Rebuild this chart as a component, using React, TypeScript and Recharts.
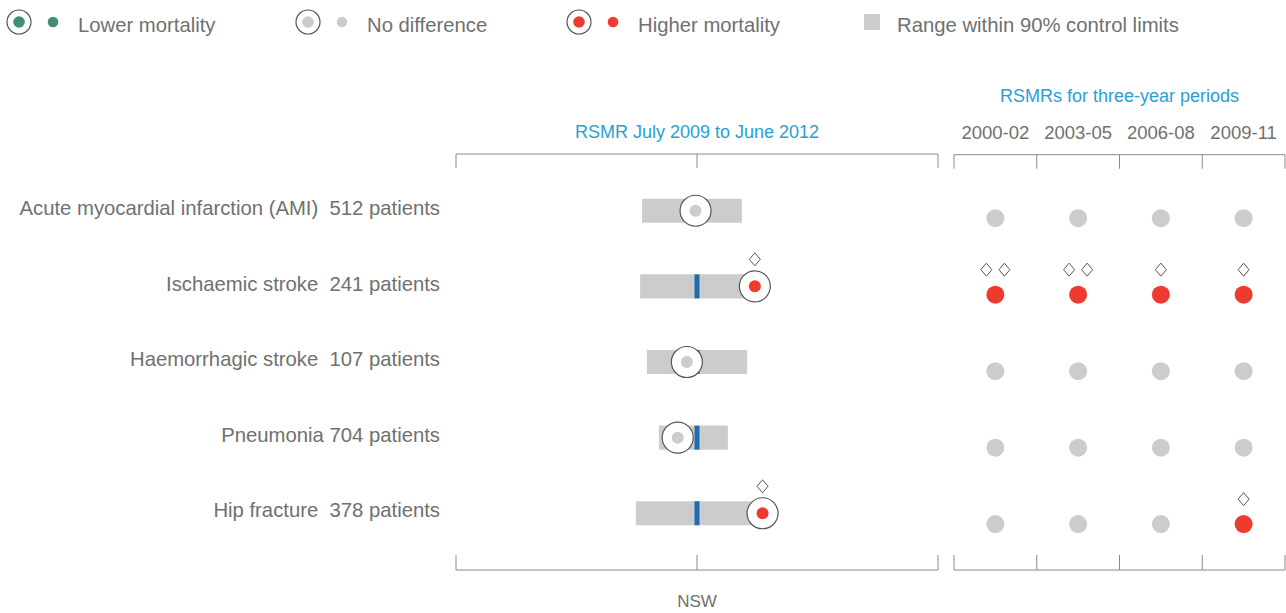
import React from "react";
import { ComposedChart, XAxis, YAxis, Scatter, ReferenceArea } from "recharts";

// conditions, left panel: RSMR July 2009 to June 2012
const conditions = [
  "Acute myocardial infarction (AMI)",
  "Ischaemic stroke",
  "Haemorrhagic stroke",
  "Pneumonia",
  "Hip fracture",
];
const patients = [512, 241, 107, 704, 378];
const labelGap = ["\u00a0 ", "\u00a0 ", "\u00a0 ", " ", "\u00a0 "];
const rsmr = [0.997, 1.12, 0.979, 0.96, 1.136];
const lowerLimit = [0.886, 0.882, 0.896, 0.921, 0.873];
const upperLimit = [1.093, 1.1, 1.104, 1.064, 1.112];
const rsmrStatus = ["none", "higher", "none", "none", "higher"];
const rsmrFlags = [0, 1, 0, 0, 1];
const nswRsmr = 1.0;

// right panel: three-year periods
const periods = ["2000-02", "2003-05", "2006-08", "2009-11"];
const periodStatus = [
  ["none", "none", "none", "none"],
  ["higher", "higher", "higher", "higher"],
  ["none", "none", "none", "none"],
  ["none", "none", "none", "none"],
  ["none", "none", "none", "higher"],
];
const periodFlags = [
  [0, 0, 0, 0],
  [2, 2, 1, 1],
  [0, 0, 0, 0],
  [0, 0, 0, 0],
  [0, 0, 0, 1],
];

const legendItems = [
  { label: "Lower mortality", status: "lower" },
  { label: "No difference", status: "none" },
  { label: "Higher mortality", status: "higher" },
];

const FONT = '"Liberation Sans", Arial, Helvetica, sans-serif';
const TEXT = "#707070";
const TITLE = "#2a9fd4";
const AXIS = "#8a8a8a";
const COLORS: Record<string, string> = {
  lower: "#3f8f72",
  none: "#cccccc",
  higher: "#ee3b2f",
};
const BAR_HALF = 0.16;
const noLabel = () => "";

const rowLabels = conditions.map((c, i) => `${c}${labelGap[i]}${patients[i]} patients`);
const rsmrPoints = rsmr.map((v, i) => ({ x: v, y: i, status: rsmrStatus[i], flags: rsmrFlags[i] }));
const nswPoints = conditions.map((_, i) => ({ x: nswRsmr, y: i }));
const periodPoints = periodStatus.flatMap((row, i) =>
  row.map((s, j) => ({ x: j, y: i, status: s, flags: periodFlags[i][j] }))
);

function Diamond({ x, y }: { x: number; y: number }) {
  return (
    <path
      d={`M${x},${y - 6.5}L${x + 5.5},${y}L${x},${y + 6.5}L${x - 5.5},${y}Z`}
      fill="#fff"
      stroke="#555"
      strokeWidth={1}
    />
  );
}

function RsmrMarker(props: any) {
  const { cx, cy, payload } = props;
  return (
    <g>
      <circle cx={cx} cy={cy} r={15.5} fill="#fff" stroke="#555" strokeWidth={1.2} />
      <circle cx={cx} cy={cy} r={6} fill={COLORS[payload.status]} />
      {payload.flags > 0 && <Diamond x={cx} y={cy - 27} />}
    </g>
  );
}

function NswMarker(props: any) {
  const { cx, cy } = props;
  return <rect x={cx - 2.5} y={cy - 12} width={5} height={24} fill="#1d6db3" />;
}

function PeriodMarker(props: any) {
  const { cx, cy, payload } = props;
  const n = payload.flags;
  return (
    <g>
      <circle cx={cx} cy={cy} r={9} fill={COLORS[payload.status]} />
      {Array.from({ length: n }, (_, k) => (
        <Diamond key={k} x={cx + (k - (n - 1) / 2) * 18} y={cy - 25} />
      ))}
    </g>
  );
}

function Legend() {
  const ringX = [19, 308, 579];
  return (
    <svg width={1286} height={50} style={{ position: "absolute", left: 0, top: 0 }}>
      {legendItems.map((item, i) => (
        <g key={item.label}>
          <circle cx={ringX[i]} cy={22} r={12} fill="#fff" stroke="#555" strokeWidth={1.2} />
          <circle cx={ringX[i]} cy={22} r={5.8} fill={COLORS[item.status]} />
          <circle cx={ringX[i] + 34} cy={22} r={5.3} fill={COLORS[item.status]} />
          <text x={ringX[i] + 59} y={31.5} fontSize={20.3} fill={TEXT} fontFamily={FONT}>
            {item.label}
          </text>
        </g>
      ))}
      <rect x={864} y={14} width={16} height={16} fill="#cccccc" />
      <text x={897} y={31.5} fontSize={20.3} fill={TEXT} fontFamily={FONT}>
        Range within 90% control limits
      </text>
    </svg>
  );
}

export default function App() {
  return (
    <div
      style={{
        position: "absolute",
        left: 0,
        top: 0,
        width: 1286,
        height: 613,
        background: "#fff",
        fontFamily: FONT,
      }}
    >
      <Legend />
      <div style={{ position: "absolute", left: 0, top: 0 }}>
        <ComposedChart width={946} height={613} margin={{ top: 154, right: 8, bottom: 43, left: 0 }}>
          <XAxis
            type="number"
            dataKey="x"
            domain={[0.5, 1.5]}
            allowDataOverflow
            ticks={[0.5, 1, 1.5]}
            interval={0}
            orientation="bottom"
            mirror
            tickFormatter={noLabel}
            tickSize={15}
            stroke={AXIS}
            label={{ value: "NSW", position: "bottom", offset: 25, fill: TEXT, fontSize: 17, fontFamily: FONT }}
          />
          <XAxis
            xAxisId="top"
            type="number"
            dataKey="x"
            domain={[0.5, 1.5]}
            allowDataOverflow
            ticks={[0.5, 1, 1.5]}
            interval={0}
            orientation="top"
            mirror
            tickFormatter={noLabel}
            tickSize={14}
            stroke={AXIS}
            label={{
              value: "RSMR July 2009 to June 2012",
              position: "top",
              offset: 16,
              fill: TITLE,
              fontSize: 18,
              fontFamily: FONT,
            }}
          />
          <YAxis
            type="number"
            dataKey="y"
            domain={[-0.75, 4.75]}
            allowDataOverflow
            reversed
            ticks={[0, 1, 2, 3, 4]}
            interval={0}
            width={456}
            axisLine={false}
            tickLine={false}
            tickSize={6}
            tickMargin={10}
            tickFormatter={(i: number) => rowLabels[i]}
            tick={{ fill: TEXT, fontSize: 20.3, fontFamily: FONT, dy: -3 }}
          />
          {conditions.map((c, i) => (
            <ReferenceArea
              key={c}
              x1={lowerLimit[i]}
              x2={upperLimit[i]}
              y1={i - BAR_HALF}
              y2={i + BAR_HALF}
              fill="#cccccc"
              fillOpacity={1}
              stroke="none"
            />
          ))}
          <Scatter data={nswPoints} shape={NswMarker} isAnimationActive={false} />
          <Scatter data={rsmrPoints} shape={RsmrMarker} isAnimationActive={false} />
          <Scatter data={rsmrPoints} xAxisId="top" shape={() => <g />} isAnimationActive={false} />
        </ComposedChart>
      </div>
      <div style={{ position: "absolute", left: 946, top: 0 }}>
        <ComposedChart width={340} height={613} margin={{ top: 114.7, right: 1, bottom: 43, left: 8 }}>
          <XAxis
            type="number"
            dataKey="x"
            domain={[-0.5, 3.5]}
            allowDataOverflow
            ticks={[-0.5, 0.5, 1.5, 2.5, 3.5]}
            interval={0}
            orientation="bottom"
            mirror
            tickFormatter={noLabel}
            tickSize={15}
            stroke={AXIS}
          />
          <XAxis
            xAxisId="top"
            type="number"
            dataKey="x"
            domain={[-0.5, 3.5]}
            allowDataOverflow
            ticks={[-0.5, 0.5, 1.5, 2.5, 3.5]}
            interval={0}
            orientation="top"
            mirror
            tickFormatter={noLabel}
            tickSize={14}
            stroke={AXIS}
          />
          <XAxis
            xAxisId="labels"
            type="number"
            dataKey="x"
            domain={[-0.5, 3.5]}
            allowDataOverflow
            ticks={[0, 1, 2, 3]}
            interval={0}
            orientation="top"
            height={40}
            axisLine={false}
            tickLine={false}
            tickSize={6}
            tickMargin={10}
            tickFormatter={(i: number) => periods[i]}
            tick={{ fill: TEXT, fontSize: 18.5, fontFamily: FONT }}
            label={{
              value: "RSMRs for three-year periods",
              position: "top",
              offset: 13,
              fill: TITLE,
              fontSize: 18,
              fontFamily: FONT,
            }}
          />
          <YAxis type="number" dataKey="y" domain={[-0.83, 4.6]} allowDataOverflow reversed hide />
          <Scatter data={periodPoints} shape={PeriodMarker} isAnimationActive={false} />
          <Scatter data={periodPoints} xAxisId="top" shape={() => <g />} isAnimationActive={false} />
          <Scatter data={periodPoints} xAxisId="labels" shape={() => <g />} isAnimationActive={false} />
        </ComposedChart>
      </div>
    </div>
  );
}
